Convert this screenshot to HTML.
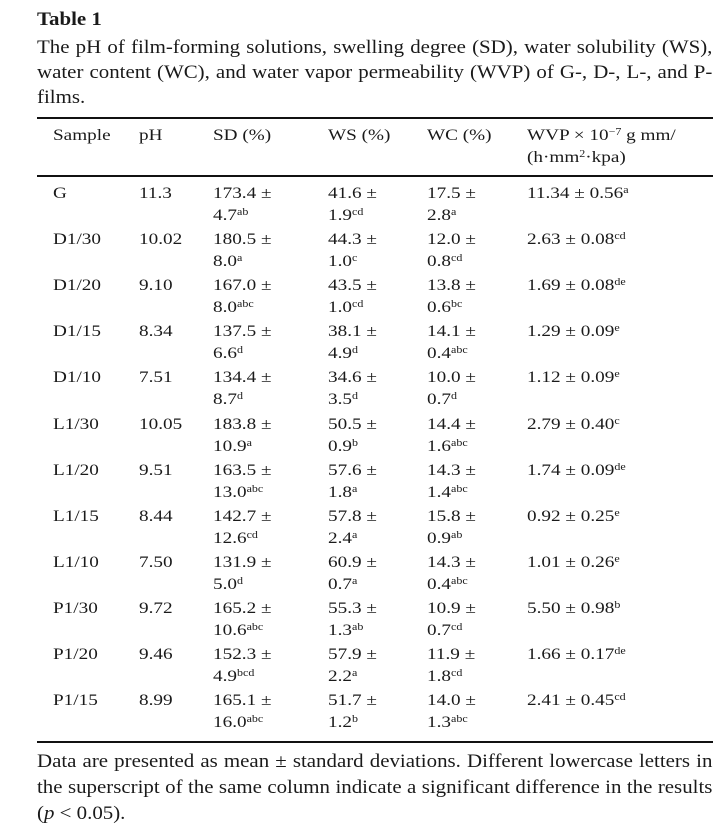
<!DOCTYPE html><html><head><meta charset="utf-8"><style>
body{margin:0;width:728px;height:837px;background:#fff;position:relative;font-family:"Liberation Serif",serif;color:#1a1a1a;overflow:hidden}
.c{position:absolute;font-size:19px;line-height:25px;left:37px;white-space:nowrap;transform:scaleX(1.1);transform-origin:0 0}
.j{width:614px;white-space:normal;text-align:justify;text-align-last:justify}
.t{position:absolute;font-size:16px;line-height:20px;white-space:nowrap;transform:scaleX(1.2);transform-origin:0 0}
.r{position:absolute;left:37px;width:676px;height:2px;background:#111}
sup{font-size:10px;line-height:0;vertical-align:5px}
</style></head><body>
<div class="c" style="top:7px;font-weight:bold">Table 1</div>
<div class="c j" style="top:35px">The pH of film-forming solutions, swelling degree (SD), water solubility (WS),</div>
<div class="c j" style="top:60px">water content (WC), and water vapor permeability (WVP) of G-, D-, L-, and P-</div>
<div class="c" style="top:85px">films.</div>
<div class="r" style="top:117px"></div>
<div class="t" style="left:53px;top:126px">Sample</div>
<div class="t" style="left:139px;top:126px">pH</div>
<div class="t" style="left:213px;top:126px">SD (%)</div>
<div class="t" style="left:328px;top:126px">WS (%)</div>
<div class="t" style="left:427px;top:126px">WC (%)</div>
<div class="t" style="left:527px;top:126px">WVP × 10<sup>−7</sup> g mm/</div>
<div class="t" style="left:527px;top:148px">(h·mm<sup>2</sup>·kpa)</div>
<div class="r" style="top:175px"></div>
<div id="rows"></div>
<div class="r" style="top:741px"></div>
<div class="c j" style="top:749px">Data are presented as mean ± standard deviations. Different lowercase letters in</div>
<div class="c j" style="top:775px">the superscript of the same column indicate a significant difference in the results</div>
<div class="c" style="top:801px">(<i>p</i> &lt; 0.05).</div>
<script>
var d=[["G","11.3","173.4","4.7","ab","41.6","1.9","cd","17.5","2.8","a","11.34 ± 0.56","a"],
["D1/30","10.02","180.5","8.0","a","44.3","1.0","c","12.0","0.8","cd","2.63 ± 0.08","cd"],
["D1/20","9.10","167.0","8.0","abc","43.5","1.0","cd","13.8","0.6","bc","1.69 ± 0.08","de"],
["D1/15","8.34","137.5","6.6","d","38.1","4.9","d","14.1","0.4","abc","1.29 ± 0.09","e"],
["D1/10","7.51","134.4","8.7","d","34.6","3.5","d","10.0","0.7","d","1.12 ± 0.09","e"],
["L1/30","10.05","183.8","10.9","a","50.5","0.9","b","14.4","1.6","abc","2.79 ± 0.40","c"],
["L1/20","9.51","163.5","13.0","abc","57.6","1.8","a","14.3","1.4","abc","1.74 ± 0.09","de"],
["L1/15","8.44","142.7","12.6","cd","57.8","2.4","a","15.8","0.9","ab","0.92 ± 0.25","e"],
["L1/10","7.50","131.9","5.0","d","60.9","0.7","a","14.3","0.4","abc","1.01 ± 0.26","e"],
["P1/30","9.72","165.2","10.6","abc","55.3","1.3","ab","10.9","0.7","cd","5.50 ± 0.98","b"],
["P1/20","9.46","152.3","4.9","bcd","57.9","2.2","a","11.9","1.8","cd","1.66 ± 0.17","de"],
["P1/15","8.99","165.1","16.0","abc","51.7","1.2","b","14.0","1.3","abc","2.41 ± 0.45","cd"]];
var h="";
function c(x,y,s){h+='<div class="t" style="left:'+x+'px;top:'+y+'px">'+s+'</div>';}
d.forEach(function(r,i){var y=Math.round(184+46.1*i),y2=y+22;
c(53,y,r[0]);c(139,y,r[1]);
c(213,y,r[2]+" ±");c(213,y2,r[3]+"<sup>"+r[4]+"</sup>");
c(328,y,r[5]+" ±");c(328,y2,r[6]+"<sup>"+r[7]+"</sup>");
c(427,y,r[8]+" ±");c(427,y2,r[9]+"<sup>"+r[10]+"</sup>");
c(527,y,r[11]+"<sup>"+r[12]+"</sup>");});
document.getElementById("rows").innerHTML=h;
</script>
</body></html>
